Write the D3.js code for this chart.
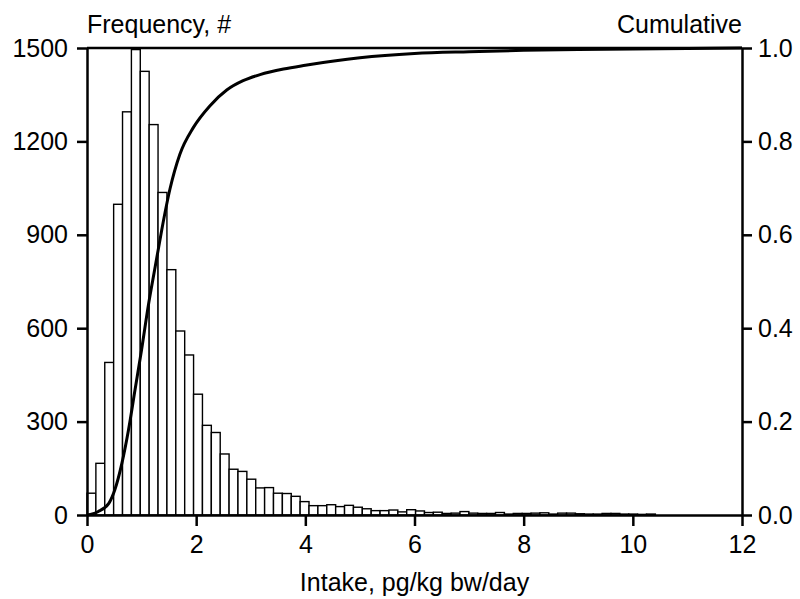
<!DOCTYPE html>
<html>
<head>
<meta charset="utf-8">
<script src="https://cdn.jsdelivr.net/npm/d3@7"></script>
<style>
  body { margin: 0; background: #fff; }
  svg { font-family: "Liberation Sans", Arial, sans-serif; }
</style>
</head>
<body>
<svg width="800" height="599"></svg>
<script>
// histogram: bin width (intake units) and counts per bin, starting at 0
let binWidth = 0.1627;
let counts = [70, 166, 490, 998, 1295, 1495, 1425, 1254, 1036, 788,
  591, 514, 388, 288, 265, 196, 147, 140, 115, 87,
  88, 70, 69, 60, 43, 30, 30, 33, 27, 31,
  25, 20, 14, 14, 16, 10, 17, 13, 8, 9,
  5, 6, 11, 6, 5, 5, 8, 3, 5, 5,
  6, 7, 3, 6, 6, 4, 3, 3, 5, 5,
  3, 3, 2, 3];

// cumulative curve
let cumX = [0, 0.2, 0.4, 0.51, 0.64, 0.76, 0.88, 1.0, 1.12, 1.25, 1.37, 1.52, 1.7, 1.95,
  2.25, 2.56, 2.86, 3.17, 3.6, 4, 5, 6, 7, 8, 9, 10, 11, 12];
let cumY = [0, 0.007, 0.025, 0.054, 0.111, 0.182, 0.268, 0.354, 0.446, 0.532, 0.611, 0.698, 0.772, 0.83,
  0.876, 0.91, 0.93, 0.943, 0.955, 0.963, 0.979, 0.988, 0.992, 0.995, 0.997, 0.998, 0.999, 1.0];

let xTicks = [0, 2, 4, 6, 8, 10, 12];
let yTicks = [0, 300, 600, 900, 1200, 1500];
let y2Ticks = [0, 0.2, 0.4, 0.6, 0.8, 1.0];

let margin = { top: 48, right: 58, bottom: 84, left: 87 };
let width = 800 - margin.left - margin.right,
    height = 599 - margin.top - margin.bottom;

let svg = d3.select('svg')
  .append('g')
  .attr('transform', `translate(${margin.left},${margin.top})`);

let x = d3.scaleLinear().domain([0, 12]).range([0, width]);
let y = d3.scaleLinear().domain([0, 1500]).range([height, 0]);
let y2 = d3.scaleLinear().domain([0, 1]).range([height, 0]);

// bars
svg.append('g')
  .selectAll('rect')
  .data(counts)
  .enter()
  .append('rect')
    .attr('x', (d, i) => x(i * binWidth))
    .attr('width', (d, i) => x((i + 1) * binWidth) - x(i * binWidth))
    .attr('y', d => y(d))
    .attr('height', d => y(0) - y(d))
    .style('fill', '#fff')
    .style('stroke', '#000')
    .style('stroke-width', 1.4);

// cumulative line
let pts = cumX.map((v, i) => [v, cumY[i]]);
svg.append('path')
  .datum(pts)
  .attr('d', d3.line()
    .x(d => x(d[0]))
    .y(d => y2(d[1]))
    .curve(d3.curveMonotoneX))
  .style('fill', 'none')
  .style('stroke', '#000')
  .style('stroke-width', 3);

// axes
function styleAxis(g) {
  g.selectAll('path, line').style('stroke', '#000').style('stroke-width', 2.5);
  g.selectAll('text').style('font-size', '25px').style('fill', '#000');
}

svg.append('g')
  .attr('transform', `translate(0,${height})`)
  .call(d3.axisBottom(x).tickValues(xTicks).tickSize(11).tickSizeOuter(0).tickPadding(9))
  .call(styleAxis);

svg.append('g')
  .call(d3.axisLeft(y).tickValues(yTicks).tickFormat(d3.format('d'))
    .tickSize(10).tickSizeOuter(0).tickPadding(9))
  .call(styleAxis);

svg.append('g')
  .attr('transform', `translate(${width},0)`)
  .call(d3.axisRight(y2).tickValues(y2Ticks).tickFormat(d3.format('.1f'))
    .tickSize(10).tickSizeOuter(0).tickPadding(6))
  .call(styleAxis);

// top frame line
svg.append('line')
  .attr('x1', 0).attr('x2', width)
  .attr('y1', 0).attr('y2', 0)
  .style('stroke', '#000')
  .style('stroke-width', 2.5);

// labels
svg.append('text')
  .attr('x', 0).attr('y', -15)
  .style('font-size', '25px')
  .text('Frequency, #');

svg.append('text')
  .attr('x', width).attr('y', -15)
  .attr('text-anchor', 'end')
  .style('font-size', '25px')
  .text('Cumulative');

svg.append('text')
  .attr('x', width / 2).attr('y', height + 76)
  .attr('text-anchor', 'middle')
  .style('font-size', '25px')
  .text('Intake, pg/kg bw/day');
</script>
</body>
</html>
